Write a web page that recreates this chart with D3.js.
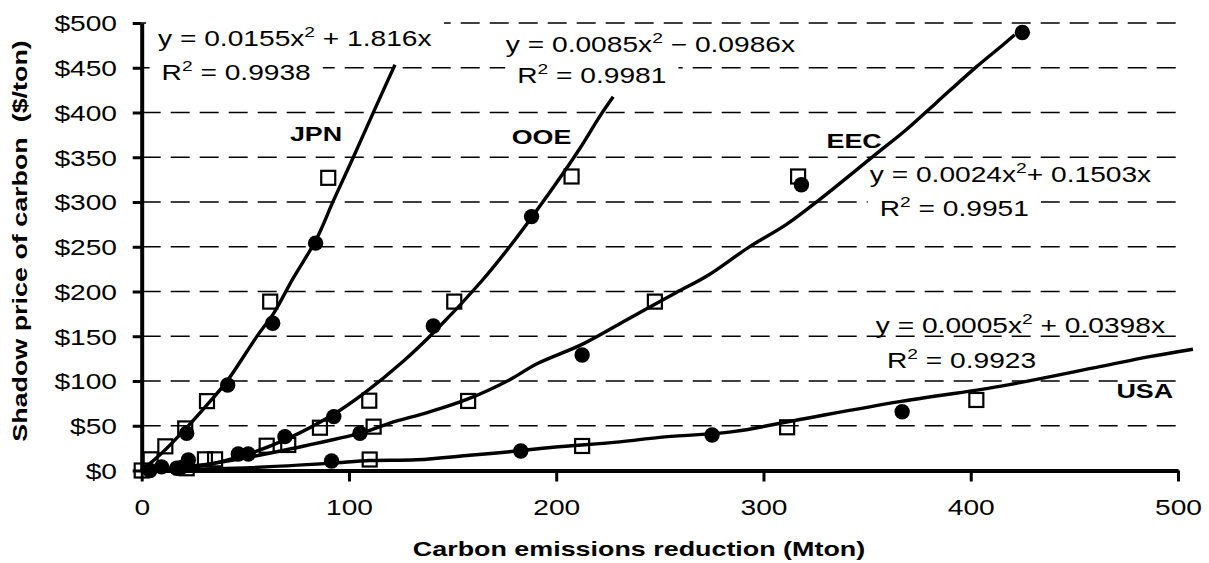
<!DOCTYPE html>
<html>
<head>
<meta charset="utf-8">
<script src="https://cdn.jsdelivr.net/npm/d3@7"></script>
<style>
  body { margin: 0; background: #fff; }
  text { font-family: "Liberation Sans", Arial, sans-serif; fill: #000; }
</style>
</head>
<body>
<div id="chart"></div>
<script>
// ticks
var xTicks = [0, 100, 200, 300, 400, 500];
var yTicks = [0, 50, 100, 150, 200, 250, 300, 350, 400, 450, 500];

// regions and their fitted trend labels
var regions = ["JPN", "OOE", "EEC", "USA"];
var equations = ["y = 0.0155x² + 1.816x", "y = 0.0085x² − 0.0986x", "y = 0.0024x²+ 0.1503x", "y = 0.0005x² + 0.0398x"];
var rSquared = ["R² = 0.9938", "R² = 0.9981", "R² = 0.9951", "R² = 0.9923"];

// trend lines: [reduction (Mton), price ($/ton)]
var jpnFit = [[0, 0], [10, 20], [20.9, 46], [31, 72], [41, 99.3], [55.5, 149.6], [63.5, 175], [73.1, 214.9], [84.4, 259], [92.4, 301], [102.1, 350], [113.3, 408], [122.2, 453.3]];
var ooeFit = [[0, 0], [20, 2], [47.4, 15.5], [69.9, 35], [92.4, 62.5], [106.9, 85.5], [126.2, 122], [142.3, 157.5], [163.2, 209.5], [177.6, 250.2], [193.7, 300.5], [210.6, 357], [221.1, 396], [227.5, 417.5]];
var eecFit = [[0, 0], [30, 6.5], [50, 14], [71.5, 24], [106.9, 42.5], [119.8, 53], [138.2, 65], [157.5, 80], [177.6, 101.5], [190.5, 119], [213, 141.5], [233.9, 168.2], [258, 199], [272.5, 217], [293.4, 250.2], [311.1, 275], [327.2, 303], [352.9, 351], [369, 381], [383.4, 411], [402.7, 451], [415.6, 475.7], [421.2, 486.9]];
var usaFit = [[0, 0], [45, 2.5], [90, 8], [110.2, 11.2], [132.6, 12], [158.3, 17], [177.6, 21], [198.5, 26], [230.7, 32], [250, 37], [285.3, 43.4], [317.5, 57], [365.7, 76.9], [413.9, 94], [462.2, 116], [486.3, 127.2], [507.2, 135.5]];

// scenario markers: filled circles and open squares
var jpnCircles = [[9.6, 4], [21.7, 41.6], [41.5, 95.6], [63.2, 164.6], [83.9, 254]];
var ooeCircles = [[18.5, 2.5], [22.5, 11.7], [46.6, 18.4], [69.1, 37.8], [92.7, 60.2], [140.7, 161.5], [188.1, 283.7]];
var eecCircles = [[16.9, 2.5], [51.4, 18.4], [105.3, 41.6], [212.5, 129.1], [318.3, 319.2], [424.9, 489.4]];
var usaCircles = [[4, 0], [91.6, 10.6], [182.9, 21.8], [275.2, 39.7], [366.9, 65.7]];
var jpnSquares = [[0, 0], [4.3, 12.5], [11.4, 27], [21, 47], [31.5, 77.5], [62, 188.7], [90, 327]];
var ooeSquares = [[30.5, 12.5], [60.3, 27.7], [86, 47.8], [109.8, 78], [150.8, 188.7], [207.4, 328.5]];
var eecSquares = [[35.4, 12.5], [70.7, 28.5], [111.9, 49], [157.5, 77.7], [247.6, 188.7], [316.7, 328.5]];
var usaSquares = [[21.7, 2.5], [110, 12.3], [212.5, 27.4], [311.4, 48.3], [402.7, 78.8]];

var fits = [jpnFit, ooeFit, eecFit, usaFit];
var circles = [].concat(jpnCircles, ooeCircles, eecCircles, usaCircles);
var squares = [].concat(jpnSquares, ooeSquares, eecSquares, usaSquares);

// label placement (data units) - layout only
var nameAt = [[71.5, 367.6], [178.5, 364.5], [330.4, 360.5], [470.3, 81]];
var eqAt = [[7.9, 473.8], [175.7, 467.1], [351.3, 322.9], [354.2, 153.4]];
var r2At = [[9.6, 435.8], [181.2, 432.9], [356.1, 284.5], [359.6, 114.3]];
var eqBg = [true, true, false, false];
var r2Bg = [true, true, true, false];

var width = 1209, height = 563;
var SX = 1.28;   // the text in the picture is drawn wide

var svg = d3.select("#chart")
  .append("svg")
    .attr("width", width)
    .attr("height", height);

var x = d3.scaleLinear().domain([0, 500]).range([141.7, 1178]);
var y = d3.scaleLinear().domain([0, 500]).range([470.5, 23]);

// gridlines
svg.append("g")
  .selectAll("line")
  .data(yTicks.filter(function(d) { return d > 0; }))
  .enter()
  .append("line")
    .attr("x1", x(0))
    .attr("x2", x(500))
    .attr("y1", function(d) { return y(d); })
    .attr("y2", function(d) { return y(d); })
    .attr("stroke", "#000")
    .attr("stroke-width", 1.3)
    .attr("stroke-dasharray", "19,10");

// axes
var yAxis = svg.append("g")
    .attr("transform", "translate(" + x(0) + ",0)")
    .call(d3.axisLeft(y).tickValues(yTicks).tickSize(9).tickSizeOuter(0)
      .tickFormat(function(d) { return "$" + d; }));
yAxis.selectAll("text")
    .attr("x", -24.7 / SX)
    .attr("dy", "0.36em")
    .attr("transform", "scale(" + SX + ",1)")
    .style("font-size", "22px");

var xAxis = svg.append("g")
    .attr("transform", "translate(0," + y(0) + ")")
    .call(d3.axisBottom(x).tickValues(xTicks).tickSize(11).tickSizeOuter(0));
xAxis.selectAll("text")
    .attr("y", 44.5)
    .attr("dy", 0)
    .attr("transform", "scale(" + SX + ",1)")
    .style("font-size", "22px");

svg.selectAll(".domain").attr("stroke", "#000").attr("stroke-width", 4);
svg.selectAll(".tick line").attr("stroke", "#000").attr("stroke-width", 3);
svg.selectAll(".tick text").attr("font-family", null);

// markers
svg.append("g")
  .selectAll("rect")
  .data(squares)
  .enter()
  .append("rect")
    .attr("x", function(d) { return x(d[0]) - 7; })
    .attr("y", function(d) { return y(d[1]) - 7; })
    .attr("width", 14)
    .attr("height", 14)
    .attr("fill", "none")
    .attr("stroke", "#000")
    .attr("stroke-width", 2.2);

svg.append("g")
  .selectAll("circle")
  .data(circles)
  .enter()
  .append("circle")
    .attr("cx", function(d) { return x(d[0]); })
    .attr("cy", function(d) { return y(d[1]); })
    .attr("r", 7.7)
    .attr("fill", "#000");

// trend lines
var line = d3.line()
    .x(function(d) { return x(d[0]); })
    .y(function(d) { return y(d[1]); })
    .curve(d3.curveCatmullRom);

svg.append("g")
  .selectAll("path")
  .data(fits)
  .enter()
  .append("path")
    .attr("d", line)
    .attr("fill", "none")
    .attr("stroke", "#000")
    .attr("stroke-width", 3.4)
    .attr("stroke-linejoin", "round");

// text helper: wide text, "²" drawn as a raised small 2
function wideText(px, py, str, size, bold, bg) {
  var g = svg.append("g")
      .attr("transform", "translate(" + px + "," + py + ") scale(" + SX + ",1)");
  var t = g.append("text")
      .style("font-size", size + "px")
      .style("font-weight", bold ? "bold" : "normal");
  var parts = str.split("²");
  parts.forEach(function(p, i) {
    if (i > 0) {
      t.append("tspan").attr("dy", -9).style("font-size", "15px").text("2");
      t.append("tspan").attr("dy", 9).text(p);
    } else {
      t.append("tspan").text(p);
    }
  });
  if (bg) {
    var b = t.node().getBBox();
    g.insert("rect", "text")
      .attr("x", b.x - 12 / SX)
      .attr("y", -25)
      .attr("width", b.width + 24 / SX)
      .attr("height", 31)
      .attr("fill", "#fff");
  }
  return g;
}

regions.forEach(function(r, i) {
  wideText(x(nameAt[i][0]), y(nameAt[i][1]), r, 21, true, false);
  wideText(x(eqAt[i][0]), y(eqAt[i][1]), equations[i], 22, false, eqBg[i]);
  wideText(x(r2At[i][0]), y(r2At[i][1]), rSquared[i], 22, false, r2Bg[i]);
});

// axis titles
svg.append("g")
    .attr("transform", "translate(639,556) scale(" + SX + ",1)")
  .append("text")
    .attr("text-anchor", "middle")
    .style("font-size", "21px")
    .style("font-weight", "bold")
    .text("Carbon emissions reduction (Mton)");

svg.append("g")
    .attr("transform", "translate(27,241) rotate(-90) scale(" + SX + ",1)")
  .append("text")
    .attr("text-anchor", "middle")
    .style("font-size", "21px")
    .style("font-weight", "bold")
    .style("white-space", "pre")
    .text("Shadow price of carbon  ($/ton)");
</script>
</body>
</html>
